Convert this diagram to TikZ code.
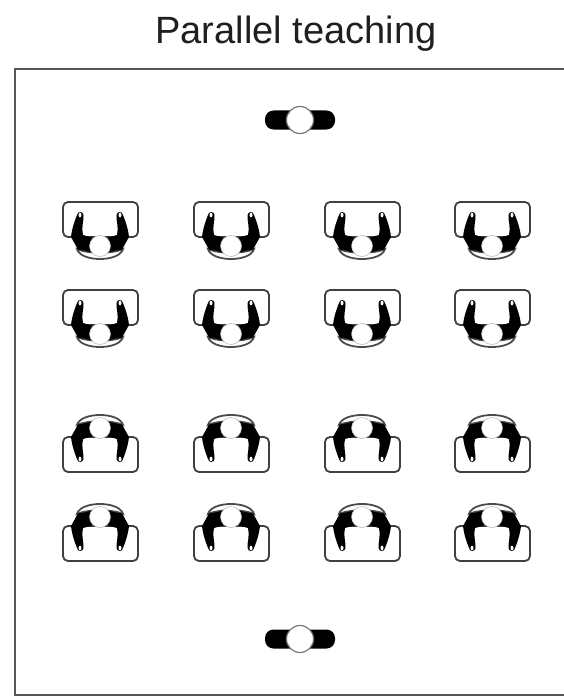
\documentclass[tikz,border=0pt]{standalone}
\usepackage{fontspec}
\setmainfont{Liberation Sans}
\definecolor{ink}{gray}{0.12}
\tikzset{
  x=1pt,y=-1pt,
  deskline/.style={draw=ink!85,line width=1.8pt,rounded corners=5pt,fill=white},
  student/.pic={
    \draw[draw=ink!80,line width=1.8pt,fill=white] (-23,3) .. controls (-21,10) and (-10,13) .. (0,13) .. controls (10,13) and (21,10) .. (23,3) .. controls (12,8) and (-12,8) .. cycle;
    \draw[deskline] (-37,-44) rectangle (38,-9);
    % arms
    \fill[black] (-29,-9) .. controls (-28,-18) and (-25,-26) .. (-23,-31) .. controls (-22.5,-35) and (-17,-35) .. (-16.5,-31) .. controls (-16,-26) and (-19,-18) .. (-17,-11) -- (-6,-8) -- (-6,7) -- (-14,5) -- (-22,3.5) -- cycle;
    \fill[black] (29,-9) .. controls (28,-18) and (25,-26) .. (23,-31) .. controls (22.5,-35) and (17,-35) .. (16.5,-31) .. controls (16,-26) and (19,-18) .. (17,-11) -- (6,-8) -- (6,7) -- (14,5) -- (22,3.5) -- cycle;
    \fill[white] (-20,-31) ellipse (1.5 and 2.4);
    \fill[white] (20,-31) ellipse (1.5 and 2.4);
    \draw[draw=ink!35,line width=0.5pt,fill=white] (0,0) circle (10.5);
  },
  teacher/.pic={
    \fill[black,rounded corners=8.5pt] (-35,-9.5) rectangle (35,9.5);
    \draw[draw=ink!60,line width=1.2pt,fill=white] (0,0) circle (13.5);
  }
}
\begin{document}
\begin{tikzpicture}
\useasboundingbox (0,0) rectangle (564,698);
\fill[white] (0,0) rectangle (564,698);
\draw[draw=ink!75,line width=2pt] (564,69.5) -- (14.5,69.5) -- (14.5,694.5) -- (564,694.5);
\node[font=\fontsize{38}{42}\selectfont,text=ink,inner sep=0pt] (title) at (296,34) {Parallel teaching};
\path (300,120) pic {teacher};
\path (300,639) pic {teacher};
\foreach \cx in {100,231,362,492}{
  \path (\cx,246) pic {student};
  \path (\cx,334) pic {student};
  \path (\cx,428) pic[yscale=-1] {student};
  \path (\cx,517) pic[yscale=-1] {student};
}
\end{tikzpicture}
\end{document}
